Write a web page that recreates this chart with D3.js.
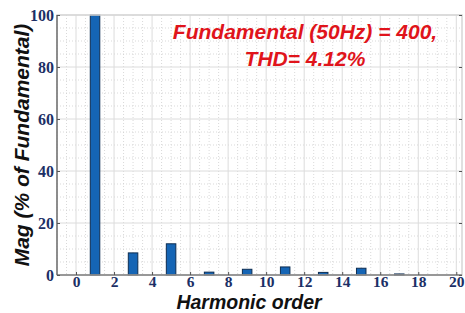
<!DOCTYPE html>
<html>
<head>
<meta charset="UTF-8" />
<script src="https://d3js.org/d3.v7.min.js"></script>
<style>
  body { margin: 0; background: #fff; }
  svg { display: block; }
</style>
</head>
<body>
<svg id="chart" width="465" height="313"></svg>
<script>
  // harmonic spectrum
  const harmonics = [1, 3, 5, 7, 9, 11, 13, 15, 17];
  const magnitudes = [100, 8.5, 12, 1.1, 2.2, 3.1, 1.0, 2.6, 0.4];
  const xTicks = [0, 2, 4, 6, 8, 10, 12, 14, 16, 18, 20];
  const yTicks = [0, 20, 40, 60, 80, 100];
  const noteLines = ["Fundamental (50Hz) = 400,", "THD= 4.12%"];

  const svg = d3.select("#chart");
  const plotL = 57, plotR = 462, plotT = 15, plotB = 275;

  const x = d3.scaleLinear().domain([-1, 20.3]).range([plotL, plotR]);
  const y = d3.scaleLinear().domain([0, 100]).range([plotB, plotT]);

  // minor grid (dotted)
  const g = svg.append("g");
  g.selectAll(".vminor")
    .data(d3.range(-1, 20.3, 0.5).filter(v => v % 2 !== 0))
    .enter().append("line")
    .attr("x1", d => x(d)).attr("x2", d => x(d))
    .attr("y1", plotT).attr("y2", plotB)
    .style("stroke", "#cfcfcf").style("stroke-width", 0.8)
    .style("stroke-dasharray", "1,2");
  g.selectAll(".hminor")
    .data(d3.range(0, 100, 5).filter(v => v % 20 !== 0))
    .enter().append("line")
    .attr("x1", plotL).attr("x2", plotR)
    .attr("y1", d => y(d)).attr("y2", d => y(d))
    .style("stroke", "#cfcfcf").style("stroke-width", 0.8)
    .style("stroke-dasharray", "1,2");

  // major grid
  g.selectAll(".vmajor")
    .data(xTicks)
    .enter().append("line")
    .attr("x1", d => x(d)).attr("x2", d => x(d))
    .attr("y1", plotT).attr("y2", plotB)
    .style("stroke", "#dcdcdc").style("stroke-width", 1);
  g.selectAll(".hmajor")
    .data(yTicks)
    .enter().append("line")
    .attr("x1", plotL).attr("x2", plotR)
    .attr("y1", d => y(d)).attr("y2", d => y(d))
    .style("stroke", "#dcdcdc").style("stroke-width", 1);

  // bars
  const barW = x(0.5) - x(0);
  svg.append("g")
    .selectAll("rect")
    .data(harmonics.map((h, i) => ({ h: h, v: magnitudes[i] })))
    .enter().append("rect")
    .attr("x", d => x(d.h) - barW / 2)
    .attr("y", d => y(d.v))
    .attr("width", barW)
    .attr("height", d => y(0) - y(d.v))
    .style("fill", "#1565b5")
    .style("stroke", "#0d2d52")
    .style("stroke-width", 1);

  // frame
  svg.append("rect")
    .attr("x", plotL).attr("y", plotT)
    .attr("width", plotR - plotL).attr("height", plotB - plotT)
    .style("fill", "none").style("stroke", "#d6d6d6").style("stroke-width", 1.5);
  svg.append("line")
    .attr("x1", plotL).attr("x2", plotL).attr("y1", plotT).attr("y2", plotB)
    .style("stroke", "#555").style("stroke-width", 1.2);
  svg.append("line")
    .attr("x1", plotL).attr("x2", plotR).attr("y1", plotB).attr("y2", plotB)
    .style("stroke", "#555").style("stroke-width", 1.2);

  // axes
  const xAxis = svg.append("g")
    .attr("transform", `translate(0,${plotB})`)
    .call(d3.axisBottom(x).tickValues(xTicks).tickSizeInner(-3).tickSizeOuter(0).tickPadding(1));
  const yAxis = svg.append("g")
    .attr("transform", `translate(${plotL},0)`)
    .call(d3.axisLeft(y).tickValues(yTicks).tickSizeInner(-3).tickSizeOuter(0).tickPadding(3));
  svg.append("g")
    .attr("transform", `translate(${plotR},0)`)
    .call(d3.axisRight(y).tickValues(yTicks).tickSizeInner(-3).tickSizeOuter(0).tickFormat(""))
    .call(a => a.select(".domain").remove())
    .selectAll("line").style("stroke", "#555");

  [xAxis, yAxis].forEach(a => {
    a.select(".domain").remove();
    a.selectAll("line").style("stroke", "#555");
    a.selectAll("text")
      .style("font-family", "'Liberation Serif', 'Times New Roman', serif")
      .style("font-weight", "bold")
      .style("font-size", "16px")
      .style("fill", "#1c2f66");
  });
  xAxis.selectAll("text").style("font-size", "15.5px");

  // axis titles
  svg.append("text")
    .attr("x", 249).attr("y", 308.5)
    .attr("text-anchor", "middle")
    .style("font-family", "'Liberation Sans', Arial, sans-serif")
    .style("font-weight", "bold").style("font-style", "italic")
    .style("font-size", "19.5px").style("fill", "#111")
    .text("Harmonic order");
  svg.append("text")
    .attr("transform", "translate(29,145) rotate(-90)")
    .attr("text-anchor", "middle")
    .style("font-family", "'Liberation Sans', Arial, sans-serif")
    .style("font-weight", "bold").style("font-style", "italic")
    .style("font-size", "21px").style("fill", "#111")
    .text("Mag (% of Fundamental)");

  // annotation
  svg.append("g")
    .selectAll("text")
    .data(noteLines)
    .enter().append("text")
    .attr("x", 305)
    .attr("y", (d, i) => 39 + i * 27)
    .attr("text-anchor", "middle")
    .style("font-family", "'Liberation Sans', Arial, sans-serif")
    .style("font-weight", "bold").style("font-style", "italic")
    .style("font-size", "21px").style("fill", "#e0141b")
    .text(d => d);
</script>
</body>
</html>
